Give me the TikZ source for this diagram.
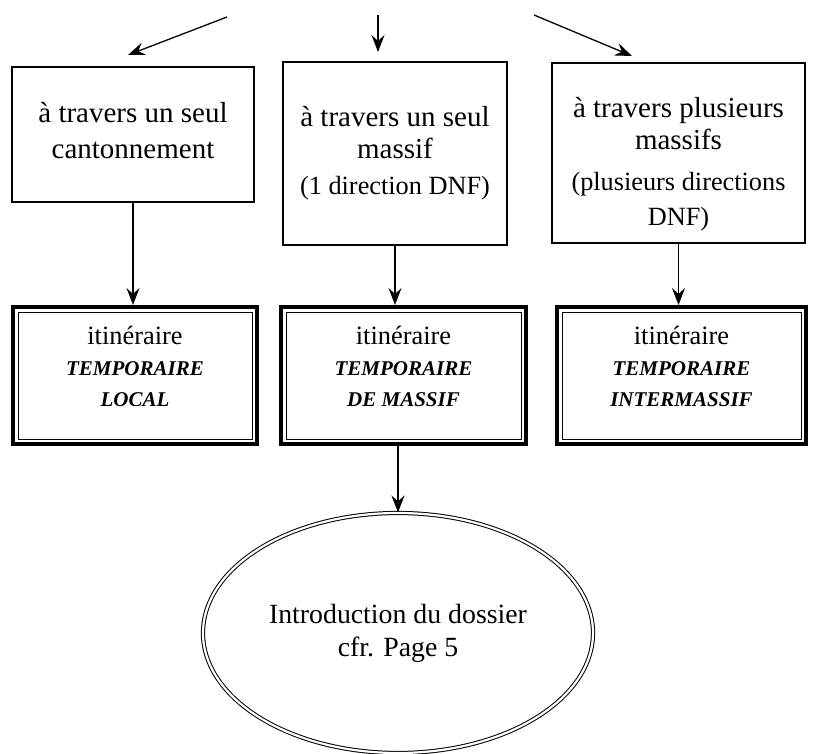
\documentclass[tikz,border=0pt]{standalone}
\usepackage{fontspec}
\setmainfont{Liberation Serif}
\usetikzlibrary{shapes.geometric,arrows.meta,positioning}

\begin{document}
\begin{tikzpicture}[x=1pt,y=-1pt]
	\tikzstyle{cadre} = [draw = black, line width = 1.3, align = center, font = \fontsize{29}{32}\selectfont]
	\tikzstyle{itin} = [draw = black, line width = 4, align = center, font = \fontsize{26.4}{31}\selectfont]
	\tikzstyle{fleche} = [line width = 1.3, -{Stealth[length=17pt, width=13pt, inset=6pt]}]
\useasboundingbox (0,0) rectangle (817,754);
% sources
\coordinate (h1) at (227,17);
\coordinate (h2) at (378,15);
\coordinate (h3) at (534,15);
\coordinate (p1) at (128,55);
\coordinate (p2) at (378,52);
\coordinate (p3) at (632,56);
% premiere rangee
\node[cadre, minimum width = 242, minimum height = 135] (s1) at (133,134.5) {\`a travers un seul\\[4pt]cantonnement\\[-24pt]};
\node[cadre, minimum width = 224, minimum height = 183] (s2) at (395,153.5) {\`a travers un seul\\massif\\[4pt]{\fontsize{26.3}{32}\selectfont(1 direction DNF)}\\[-26pt]};
\node[cadre, minimum width = 253, minimum height = 180] (s3) at (678.5,153) {\rule{0pt}{42pt}\`a travers plusieurs\\massifs\\[9pt]{\fontsize{26.3}{32}\selectfont(plusieurs directions}\\[3pt]{\fontsize{26.3}{32}\selectfont DNF)}};
% deuxieme rangee
\node[itin, minimum width = 244, minimum height = 137] (t1) at (135,375.5) {itin\'eraire\\{\fontsize{21}{30}\selectfont\bfseries\itshape TEMPORAIRE}\\{\fontsize{21}{30}\selectfont\bfseries\itshape LOCAL}\\[-12pt]};
\node[itin, minimum width = 245, minimum height = 137] (t2) at (403.5,375.5) {itin\'eraire\\{\fontsize{21}{30}\selectfont\bfseries\itshape TEMPORAIRE}\\{\fontsize{21}{30}\selectfont\bfseries\itshape DE MASSIF}\\[-12pt]};
\node[itin, minimum width = 249, minimum height = 137] (t3) at (681.5,375.5) {itin\'eraire\\{\fontsize{21}{30}\selectfont\bfseries\itshape TEMPORAIRE}\\{\fontsize{21}{30}\selectfont\bfseries\itshape INTERMASSIF}\\[-12pt]};
\foreach \n in {t1,t2,t3}
	\draw[line width = 1] ([shift={(7,7)}]\n.north west) rectangle ([shift={(-7,-7)}]\n.south east);
% ellipse
\node[ellipse, draw = black, double, double distance = 2.2, line width = 1, minimum width = 390, minimum height = 240, align = center, font = \fontsize{27.8}{33}\selectfont] (intro) at (398,633) {Introduction du dossier\\cfr. Page 5};
	\path[draw][fleche] (h1) -- (p1);
	\path[draw][fleche] (h2) -- (p2);
	\path[draw][fleche] (h3) -- (p3);
	\path[draw][fleche] (s1.south) -- (s1.south |- t1.north);
	\path[draw][fleche] (s2.south) -- (s2.south |- t2.north);
	\path[draw][fleche] (s3.south) -- (s3.south |- t3.north);
	\path[draw][fleche] (t2.south -| intro.north) -- (intro.north);
\end{tikzpicture}
\end{document}
